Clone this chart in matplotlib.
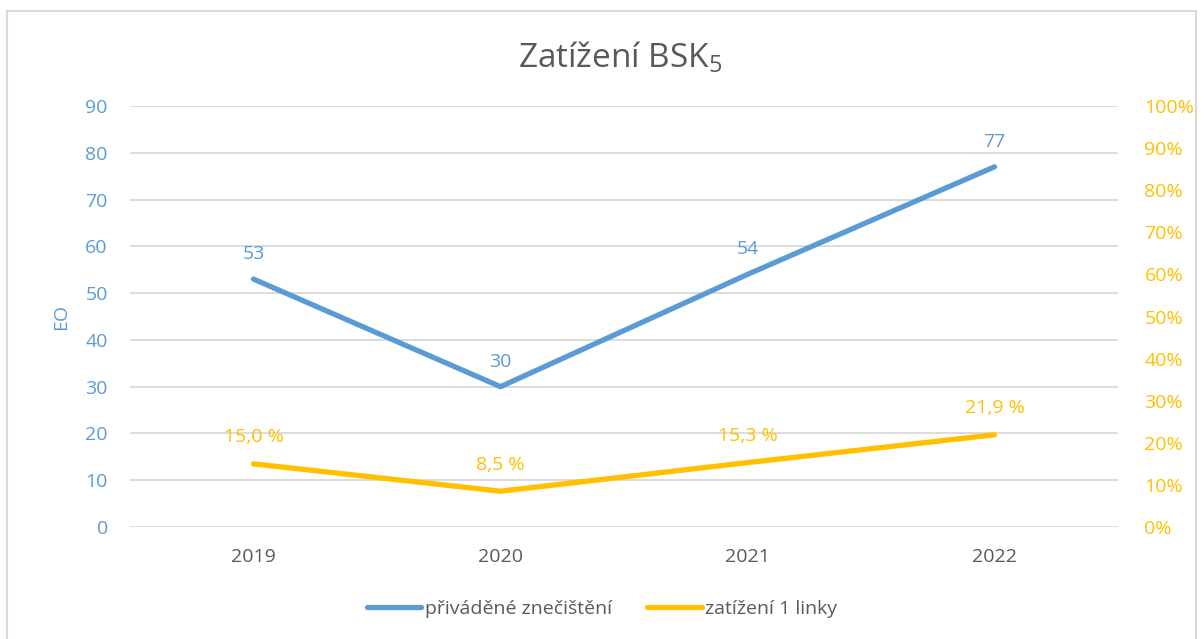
import matplotlib
matplotlib.use("Agg")
import matplotlib.pyplot as plt
from matplotlib.patches import Rectangle
from matplotlib.ticker import PercentFormatter

plt.rcParams['font.family'] = ['Open Sans', 'DejaVu Sans']
plt.rcParams['mathtext.default'] = 'regular'

years = ["2019", "2020", "2021", "2022"]
eo = [53, 30, 54, 77]                  # přiváděné znečištění (EO)
load = [0.150, 0.085, 0.153, 0.219]    # zatížení 1 linky

BLUE = "#5B9BD5"
YELLOW = "#FFC000"
GRAY = "#595959"
GRID = "#D9D9D9"
FS = 14

fig = plt.figure(figsize=(12.04, 6.39), dpi=100)
ax = fig.add_axes([130 / 1204, 1 - 527 / 639, 988 / 1204, 421 / 639])
ax2 = ax.twinx()

x = range(len(years))
l1, = ax.plot(x, eo, color=BLUE, lw=3.8, solid_capstyle='round',
              label="přiváděné znečištění", zorder=3)
l2, = ax2.plot(x, load, color=YELLOW, lw=3.8, solid_capstyle='round',
               label="zatížení 1 linky", zorder=3)

for xi, v in zip(x, eo):
    ax.annotate(f"{v}", (xi, v), xytext=(0, 18), textcoords="offset points",
                ha="center", va="center", color=BLUE, fontsize=FS)
for xi, v in zip(x, load):
    ax2.annotate(f"{v * 100:.1f} %".replace(".", ","), (xi, v), xytext=(0, 19),
                 textcoords="offset points", ha="center", va="center",
                 color=YELLOW, fontsize=FS)

ax.set_xlim(-0.5, 3.5)
ax.set_ylim(0, 90)
ax.set_yticks(range(0, 91, 10))
ax2.set_ylim(0, 1)
ax2.set_yticks([i / 10 for i in range(11)])
ax2.yaxis.set_major_formatter(PercentFormatter(1.0, decimals=0))

ax.set_xticks(list(x))
ax.set_xticklabels(years)
ax.grid(axis='y', color=GRID, lw=1.3)
ax.set_axisbelow(True)
for a in (ax, ax2):
    for s in a.spines.values():
        s.set_visible(False)
    a.tick_params(length=0)
ax.tick_params(axis='y', colors=BLUE, labelsize=FS, pad=16)
ax.tick_params(axis='x', colors=GRAY, labelsize=FS, pad=15)
ax2.tick_params(axis='y', colors=YELLOW, labelsize=FS, pad=19)
ax.set_ylabel("EO", color=BLUE, fontsize=FS, labelpad=11)

fig.text(0.515, 1 - 58 / 639, "Zatížení BSK$_5$", ha="center", va="center",
         fontsize=24, color=GRAY)

fig.legend(handles=[l1, l2], loc="lower center", bbox_to_anchor=(0.5, 0.005),
           ncol=2, frameon=False, fontsize=FS, handlelength=2.8,
           handletextpad=0.2, columnspacing=1.8, labelcolor=GRAY)

fig.add_artist(Rectangle((7 / 1204, -0.05), 1189 / 1204, 1.05 - 11 / 639,
                         transform=fig.transFigure, fill=False,
                         edgecolor=GRID, lw=1.5))

fig.savefig("out.png", dpi=100)
